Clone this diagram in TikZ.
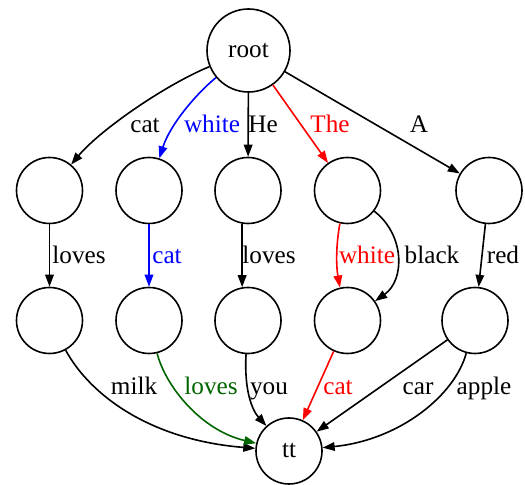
\documentclass[tikz,border=0pt]{standalone}
\usepackage{fontspec}
\setmainfont{Liberation Serif}
\usetikzlibrary{arrows.meta}
\definecolor{dgreen}{RGB}{0,100,0}
\begin{document}
\begin{tikzpicture}[x=0.5pt,y=-0.5pt,
  st/.style={circle,draw,line width=0.8pt,minimum size=33pt,inner sep=0pt,font=\fontsize{12.6}{15}\selectfont},
  big/.style={st,minimum size=41.5pt},
  edge/.style={line width=0.8pt,-{Triangle[length=6pt,width=4.3pt]}},
  lab/.style={anchor=base,inner sep=0pt,font=\fontsize{12.6}{15}\selectfont}]
\useasboundingbox (0,0) rectangle (525,485);
% nodes
\node[big] (root) at (248.5,50.5) {root};
\node[st] (a1) at (49.5,190.5) {};
\node[st] (a2) at (149,190.5) {};
\node[st] (a3) at (248,190.5) {};
\node[st] (a4) at (347.5,190.5) {};
\node[st] (a5) at (489,190.5) {};
\node[st] (b1) at (49.5,320.5) {};
\node[st] (b2) at (149,320.5) {};
\node[st] (b3) at (248,320.5) {};
\node[st] (b4) at (347.5,320.5) {};
\node[st] (b5) at (475,320.5) {};
\node[st] (tt) at (289,451) {tt};
% edges root -> row 1
\draw[edge] (root) .. controls (165,85) and (100,130) .. (a1);
\draw[edge,blue] (root) .. controls (195,95) and (170,125) .. (a2);
\draw[edge] (root) -- (a3);
\draw[edge,red] (root) -- (a4);
\draw[edge] (root) -- (a5);
% row 1 -> row 2
\draw[edge] (a1) -- (b1);
\draw[edge,blue] (a2) -- (b2);
\draw[edge] (a3.260) -- (b3.100);
\draw[edge,red] (a4.257) .. controls (336,245) and (336,265) .. (b4.103);
\draw[edge] (a4) .. controls (405,235) and (405,280) .. (b4);
\draw[edge] (a5) -- (b5);
% row 2 -> tt
\draw[edge] (b1) .. controls (90,395) and (150,440) .. (tt);
\draw[edge,dgreen] (b2) .. controls (165,385) and (200,430) .. (tt);
\draw[edge] (b3) .. controls (244,390) and (252,410) .. (tt);
\draw[edge,red] (b4) -- (tt);
\draw[edge] (b5) -- (tt);
\draw[edge] (b5) .. controls (455,395) and (400,440) .. (tt);
% labels
\node[lab] (l1) at (145,133) {cat};
\node[lab,blue] (l2) at (212,133) {white};
\node[lab] (l3) at (263,133) {He};
\node[lab,red] (l4) at (330,133) {The};
\node[lab] (l5) at (419,133) {A};
\node[lab] (m1) at (79,264) {loves};
\node[lab,blue] (m2) at (167,264) {cat};
\node[lab] (m3) at (269,264) {loves};
\node[lab,red] (m4) at (367,264) {white};
\node[lab] (m5) at (432,264) {black};
\node[lab] (m6) at (503,264) {red};
\node[lab] (n1) at (134,395) {milk};
\node[lab,dgreen] (n2) at (211,395) {loves};
\node[lab] (n3) at (269,395) {you};
\node[lab,red] (n4) at (338,395) {cat};
\node[lab] (n5) at (418,395) {car};
\node[lab] (n6) at (484,395) {apple};
\end{tikzpicture}
\end{document}
